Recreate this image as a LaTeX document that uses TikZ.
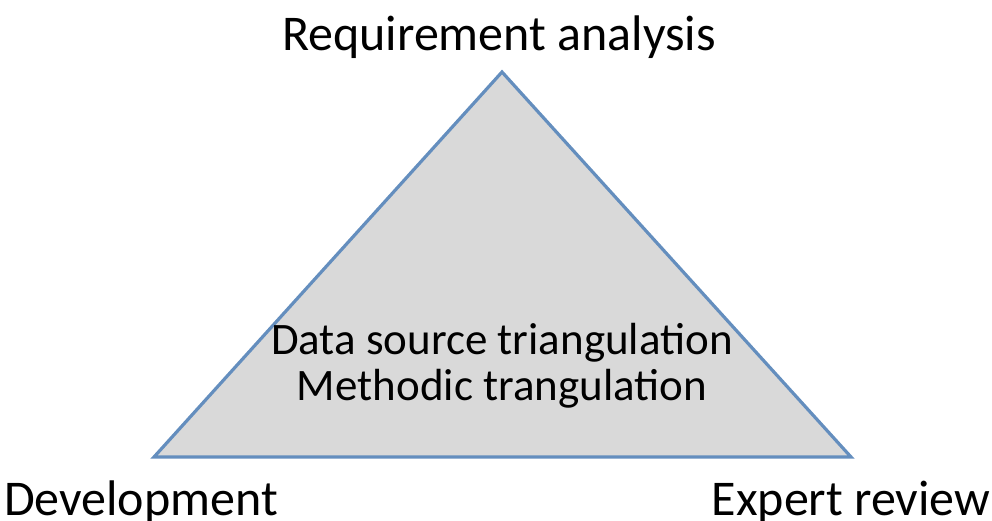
\documentclass[tikz,border=0pt]{standalone}
\usepackage{fontspec}
\setmainfont{Carlito}
\definecolor{edgeblue}{RGB}{100,142,190}
\definecolor{facegray}{RGB}{217,217,217}
\tikzset{
  corner/.style={font=\fontsize{50}{56}\selectfont, inner sep=0pt, anchor=base},
  inside/.style={font=\fontsize{45}{46}\selectfont, align=center, inner sep=0pt}
}
\begin{document}
\begin{tikzpicture}[x=1pt, y=-1pt]
      \useasboundingbox (0,0) rectangle (992,520);
      \coordinate (top) at (502,72);
      \coordinate (left) at (154,457);
      \coordinate (right) at (851,457);
      \draw[line width=3.2pt, edgeblue, fill=facegray, line join=miter] (top) -- (left) -- (right) -- cycle;
      \node[corner] (req) at (499,50) {Requirement analysis};
      \node[corner] (dev) at (141,515) {Development};
      \node[corner] (exp) at (851,515) {Expert review};
      \node[inside] (tri) at (502,366) {Data source triangulation\\Methodic trangulation};
\end{tikzpicture}
\end{document}
